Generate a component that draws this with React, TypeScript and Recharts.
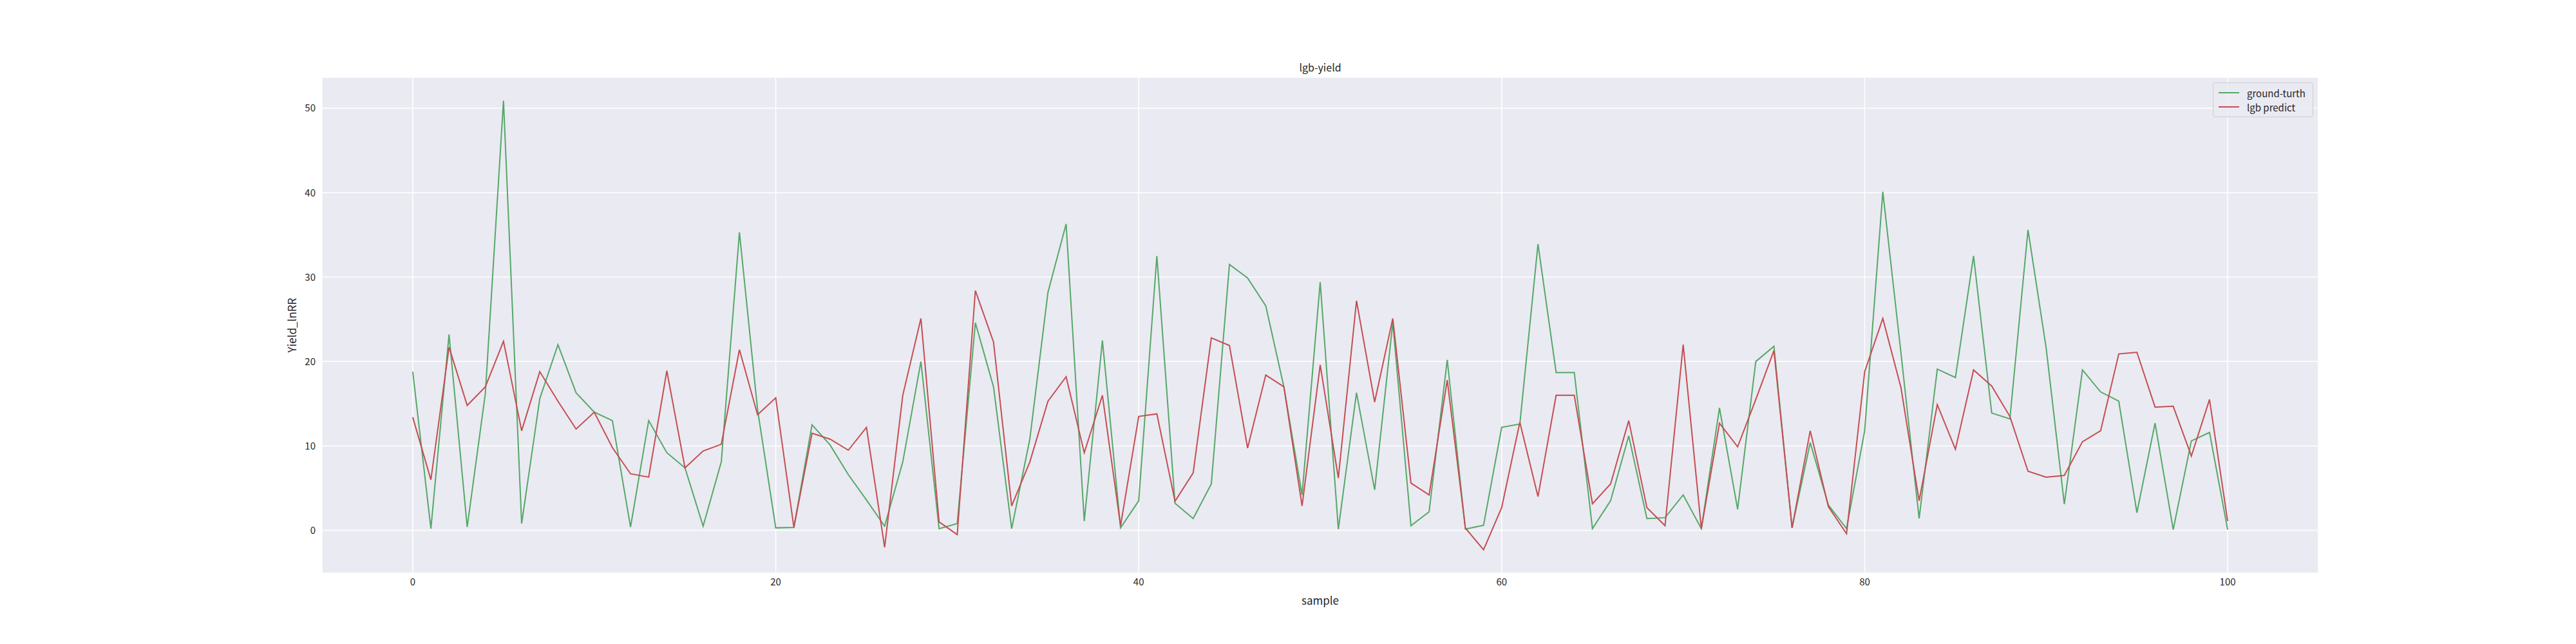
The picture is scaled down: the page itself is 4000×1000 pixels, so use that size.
import React from 'react';
import { LineChart, Line, XAxis, YAxis, CartesianGrid, Legend } from 'recharts';

// values
const samples: number[] = Array.from({ length: 101 }, (_, i) => i);

const groundTruth: number[] = [
  18.8, 0.2, 23.2, 0.4, 16.2, 50.9, 0.8, 15.6, 22.0, 16.3,
  14.0, 13.0, 0.4, 13.0, 9.2, 7.4, 0.5, 8.1, 35.3, 14.3,
  0.3, 0.35, 12.5, 10.1, 6.6, 3.6, 0.5, 8.1, 20.0, 0.2,
  0.8, 24.6, 17.0, 0.2, 10.8, 28.2, 36.3, 1.1, 22.5, 0.3,
  3.5, 32.5, 3.2, 1.4, 5.5, 31.5, 29.9, 26.6, 17.0, 4.2,
  29.4, 0.15, 16.3, 4.8, 24.6, 0.55, 2.2, 20.2, 0.15, 0.6,
  12.2, 12.6, 33.9, 18.7, 18.7, 0.2, 3.5, 11.2, 1.4, 1.5,
  4.2, 0.2, 14.5, 2.5, 20.0, 21.8, 0.3, 10.4, 3.0, 0.2,
  11.8, 40.1, 21.0, 1.4, 19.1, 18.1, 32.5, 13.9, 13.2, 35.6,
  21.6, 3.1, 19.0, 16.4, 15.3, 2.1, 12.7, 0.1, 10.6, 11.6,
  0.1,
];

const lgbPredict: number[] = [
  13.4, 6.0, 21.7, 14.8, 17.0, 22.4, 11.8, 18.8, 15.3, 12.0,
  14.0, 9.8, 6.7, 6.3, 18.9, 7.4, 9.4, 10.2, 21.4, 13.7,
  15.7, 0.35, 11.5, 10.8, 9.5, 12.2, -2.0, 16.0, 25.1, 1.0,
  -0.5, 28.4, 22.3, 2.9, 8.1, 15.3, 18.2, 9.2, 16.0, 0.55,
  13.5, 13.8, 3.45, 6.8, 22.8, 21.9, 9.75, 18.4, 17.0, 2.9,
  19.6, 6.2, 27.2, 15.2, 25.1, 5.6, 4.2, 17.8, 0.27, -2.3,
  2.7, 12.8, 4.0, 16.0, 16.0, 3.15, 5.5, 13.0, 2.7, 0.55,
  22.0, 0.2, 12.7, 9.9, 15.5, 21.3, 0.3, 11.8, 2.8, -0.4,
  18.8, 25.1, 16.9, 3.5, 14.9, 9.6, 19.0, 17.1, 13.5, 7.0,
  6.3, 6.5, 10.5, 11.8, 20.9, 21.1, 14.6, 14.7, 8.8, 15.5,
  1.1,
];

const xTicks: number[] = [0, 20, 40, 60, 80, 100];
const yTicks: number[] = [0, 10, 20, 30, 40, 50];

const data = samples.map((s, i) => ({
  sample: s,
  truth: groundTruth[i],
  predict: lgbPredict[i],
}));

const FONT = '"Noto Sans CJK SC", "DejaVu Sans", sans-serif';
const TEXT = '#262626';

const LegendBox = ({ payload }: any) => (
  <div
    style={{
      background: 'rgba(234,234,242,0.8)',
      border: '1px solid #cccccc',
      borderRadius: 4,
      padding: '4px 8px',
      fontFamily: FONT,
      fontSize: 15,
      color: TEXT,
      whiteSpace: 'nowrap',
    }}
  >
    {(payload || []).map((entry: any) => (
      <div key={entry.value} style={{ display: 'flex', alignItems: 'center', height: 22 }}>
        <span style={{ display: 'inline-block', width: 32, height: 2, background: entry.color, marginRight: 12, flexShrink: 0 }} />
        <span>{entry.value}</span>
      </div>
    ))}
  </div>
);

export default function App() {
  return (
    <div style={{ position: 'absolute', left: 0, top: 0, width: 4000, height: 1000, background: '#fff' }}>
      <div
        style={{
          position: 'absolute',
          left: 500,
          width: 3100,
          top: 92,
          textAlign: 'center',
          fontFamily: FONT,
          fontSize: 16,
          color: TEXT,
        }}
      >
        lgb-yield
      </div>
      <LineChart
        width={4000}
        height={1000}
        data={data}
        margin={{ top: 120, right: 400, bottom: 60, left: 400 }}
      >
        <CartesianGrid fill="#EAEAF2" stroke="#ffffff" strokeWidth={1.5} />
        <XAxis
          dataKey="sample"
          type="number"
          domain={[-5, 105]}
          ticks={xTicks}
          axisLine={false}
          tickLine={false}
          tickSize={0}
          tickMargin={8}
          height={50}
          tick={{ fill: TEXT, fontSize: 15, fontFamily: FONT }}
          label={{
            content: (props: any) => {
              const { x, y, width } = props.viewBox;
              return (
                <text x={x + width / 2} y={y + 49} textAnchor="middle" fill={TEXT} fontSize={17} fontFamily={FONT}>
                  sample
                </text>
              );
            },
          }}
        />
        <YAxis
          type="number"
          domain={[-5.07, 53.67]}
          ticks={yTicks}
          axisLine={false}
          tickLine={false}
          tickSize={0}
          tickMargin={10}
          width={100}
          tick={{ fill: TEXT, fontSize: 15, fontFamily: FONT }}
          label={{
            content: (props: any) => {
              const { x, y, height } = props.viewBox;
              const cx = x + 52;
              const cy = y + height / 2;
              return (
                <text
                  x={cx}
                  y={cy}
                  transform={`rotate(-90 ${cx} ${cy})`}
                  textAnchor="middle"
                  dominantBaseline="central"
                  fill={TEXT}
                  fontSize={17}
                  fontFamily={FONT}
                >
                  Yield_lnRR
                </text>
              );
            },
          }}
        />
        <Legend
          layout="horizontal"
          verticalAlign="middle"
          align="center"
          content={<LegendBox />}
          wrapperStyle={{ left: 3436, top: 128, width: 156, height: 'auto' }}
        />
        <Line
          type="linear"
          dataKey="truth"
          name="ground-turth"
          stroke="#55A868"
          strokeWidth={2}
          dot={false}
          isAnimationActive={false}
        />
        <Line
          type="linear"
          dataKey="predict"
          name="lgb predict"
          stroke="#C44E52"
          strokeWidth={2}
          dot={false}
          isAnimationActive={false}
        />
      </LineChart>
    </div>
  );
}
